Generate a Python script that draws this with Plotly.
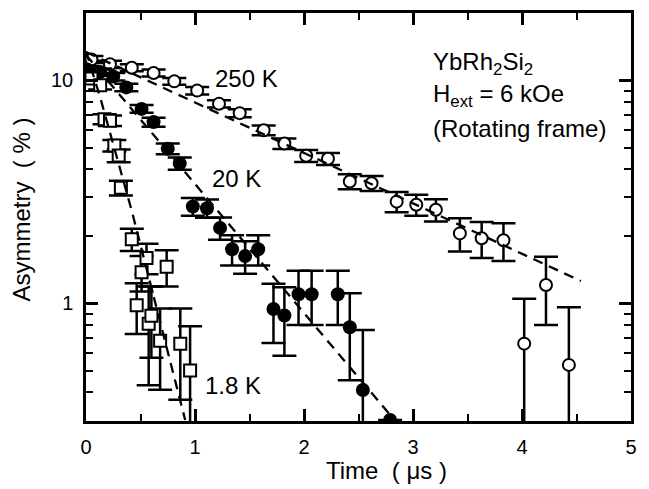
import math
import plotly.graph_objects as go

# ---------------- data ----------------
# 250 K : open circles
t_250 = [0.05, 0.22, 0.42, 0.62, 0.81, 1.02, 1.22, 1.41, 1.63, 1.82, 2.02, 2.22,
         2.42, 2.62, 2.85, 3.03, 3.21, 3.43, 3.63, 3.83, 4.02, 4.22, 4.43]
a_250 = [12.4, 11.8, 11.4, 10.8, 9.9, 9.0, 7.85, 7.13, 5.97, 5.21, 4.59, 4.45,
         3.52, 3.46, 2.86, 2.77, 2.63, 2.06, 1.96, 1.92, 0.66, 1.21, 0.53]
e_250 = [0.45, 0.45, 0.4, 0.4, 0.35, 0.35, 0.3, 0.3, 0.3, 0.28, 0.28, 0.28,
         0.27, 0.27, 0.3, 0.3, 0.3, 0.35, 0.36, 0.37, 0.39, 0.41, 0.43]

# 20 K : filled circles
t_20 = [0.01, 0.13, 0.25, 0.37, 0.51, 0.62, 0.75, 0.86, 0.98, 1.11, 1.23, 1.34,
        1.46, 1.58, 1.72, 1.82, 1.95, 2.07, 2.31, 2.42, 2.54, 2.79]
a_20 = [11.2, 10.9, 10.4, 9.3, 7.45, 6.5, 4.94, 4.24, 2.72, 2.67, 2.18, 1.75,
        1.63, 1.75, 0.944, 0.882, 1.10, 1.10, 1.10, 0.782, 0.409, 0.30]
e_20 = [0.4, 0.4, 0.4, 0.35, 0.3, 0.3, 0.27, 0.27, 0.25, 0.25, 0.25, 0.27,
        0.27, 0.27, 0.28, 0.3, 0.3, 0.3, 0.3, 0.33, 0.35, None]

# 1.8 K : open squares
t_18 = [0.05, 0.13, 0.17, 0.22, 0.26, 0.30, 0.32, 0.42, 0.465, 0.51, 0.555,
        0.575, 0.60, 0.68, 0.74, 0.865, 0.955]
a_18 = [10.2, 9.5, 6.7, 6.6, 5.1, 4.6, 3.3, 1.94, 0.98, 1.38, 1.60,
        0.81, 0.88, 0.68, 1.46, 0.66, 0.50]
e_18 = [0.4, 0.4, 0.35, 0.35, 0.3, 0.3, 0.25, 0.22, 0.25, 0.25, 0.25,
        0.38, 0.31, 0.27, 0.27, 0.29, 0.29]

# dashed fit curves (vertices)
fit_250_t = [0.0, 4.54]
fit_250_a = [13.4, 1.26]
fit_20_t = [0.0, 2.83]
fit_20_a = [13.0, 0.30]
fit_18_t = [0.0, 0.13, 0.42, 0.91]
fit_18_a = [13.5, 8.4, 2.6, 0.30]

# axes
x_ticks = [0, 1, 2, 3, 4, 5]
x_minor = [0.5, 1.5, 2.5, 3.5, 4.5]
y_ticks = [1, 10]
y_ticklabels = ["1", "10"]
y_minor = [0.3, 0.4, 0.5, 0.6, 0.7, 0.8, 0.9, 2, 3, 4, 5, 6, 7, 8, 9, 20]
x_range = [0, 5]
y_range = [0.297, 20.05]

labels = ["250 K", "20 K", "1.8 K"]
info_lines = ["YbRh<sub>2</sub>Si<sub>2</sub>",
              "H<sub>ext</sub> = 6 kOe",
              "(Rotating frame)"]
x_title = "Time  ( \u03bcs )"
y_title = "Asymmetry  ( % )"

# ---------------- figure ----------------
FONT = "Liberation Sans, Arial, Helvetica, sans-serif"
W, H = 649, 489
ML, MR, MT, MB = 86, 18, 10, 68
PW, PH = W - ML - MR, H - MT - MB


def px2paper(px, py):
    return (px - ML) / PW, (H - MB - py) / PH


err_style = dict(type="data", color="black", thickness=2.5, width=12)

fig = go.Figure()

fig.add_trace(go.Scatter(
    x=t_250, y=a_250, mode="markers", name="250 K",
    marker=dict(symbol="circle", size=12, color="white",
                line=dict(color="black", width=2)),
    error_y=dict(array=e_250, **err_style)))

fig.add_trace(go.Scatter(
    x=t_20, y=a_20, mode="markers", name="20 K",
    marker=dict(symbol="circle", size=14, color="black",
                line=dict(color="black", width=0)),
    error_y=dict(array=e_20, **err_style)))

fig.add_trace(go.Scatter(
    x=t_18, y=a_18, mode="markers", name="1.8 K",
    marker=dict(symbol="square", size=12, color="white",
                line=dict(color="black", width=2)),
    error_y=dict(array=e_18, **err_style)))

for ft, fa in [(fit_250_t, fit_250_a), (fit_20_t, fit_20_a), (fit_18_t, fit_18_a)]:
    fig.add_trace(go.Scatter(
        x=ft, y=fa, mode="lines",
        line=dict(color="black", width=2.3, dash="10px,7px")))

axis_common = dict(
    showline=True, linecolor="black", linewidth=2.5, mirror="ticks",
    ticks="inside", tickcolor="black", tickwidth=2.5, ticklen=12,
    showgrid=False, zeroline=False,
    tickfont=dict(family=FONT, size=20, color="black"),
)

fig.update_xaxes(
    range=x_range, tickmode="array", tickvals=x_ticks,
    ticktext=[str(v) for v in x_ticks],
    minor=dict(tickmode="array", tickvals=x_minor, ticks="inside",
               ticklen=7, tickwidth=2.2, tickcolor="black", showgrid=False),
    ticklabelstandoff=6,
    **axis_common)

fig.update_yaxes(
    type="log", range=[math.log10(y_range[0]), math.log10(y_range[1])],
    tickmode="array", tickvals=y_ticks, ticktext=y_ticklabels,
    minor=dict(tickmode="array", tickvals=y_minor, ticks="inside",
               ticklen=7, tickwidth=2.2, tickcolor="black", showgrid=False),
    ticklabelstandoff=6,
    **axis_common)

annotations = []
# series labels
for txt, (px, py) in zip(labels, [(213, 76), (210, 177), (203, 385)]):
    x, y = px2paper(px, py)
    annotations.append(dict(text=txt, x=x, y=y, xref="paper", yref="paper",
                            xanchor="left", yanchor="middle", showarrow=False,
                            font=dict(family=FONT, size=24, color="black")))
# info block
for txt, (px, py) in zip(info_lines, [(431, 61), (431, 93), (431, 126)]):
    x, y = px2paper(px, py)
    annotations.append(dict(text=txt, x=x, y=y, xref="paper", yref="paper",
                            xanchor="left", yanchor="middle", showarrow=False,
                            font=dict(family=FONT, size=24, color="black")))
# axis titles
x, y = px2paper(386, 471)
annotations.append(dict(text=x_title, x=x, y=y, xref="paper", yref="paper",
                        xanchor="center", yanchor="middle", showarrow=False,
                        font=dict(family=FONT, size=24, color="black")))
x, y = px2paper(22, 208)
annotations.append(dict(text=y_title, x=x, y=y, xref="paper", yref="paper",
                        xanchor="center", yanchor="middle", showarrow=False,
                        textangle=-90,
                        font=dict(family=FONT, size=24, color="black")))

fig.update_layout(
    width=W, height=H,
    margin=dict(l=ML, r=MR, t=MT, b=MB),
    paper_bgcolor="white", plot_bgcolor="white",
    showlegend=False,
    font=dict(family=FONT, color="black"),
    annotations=annotations,
)

fig.write_html("out.html")
